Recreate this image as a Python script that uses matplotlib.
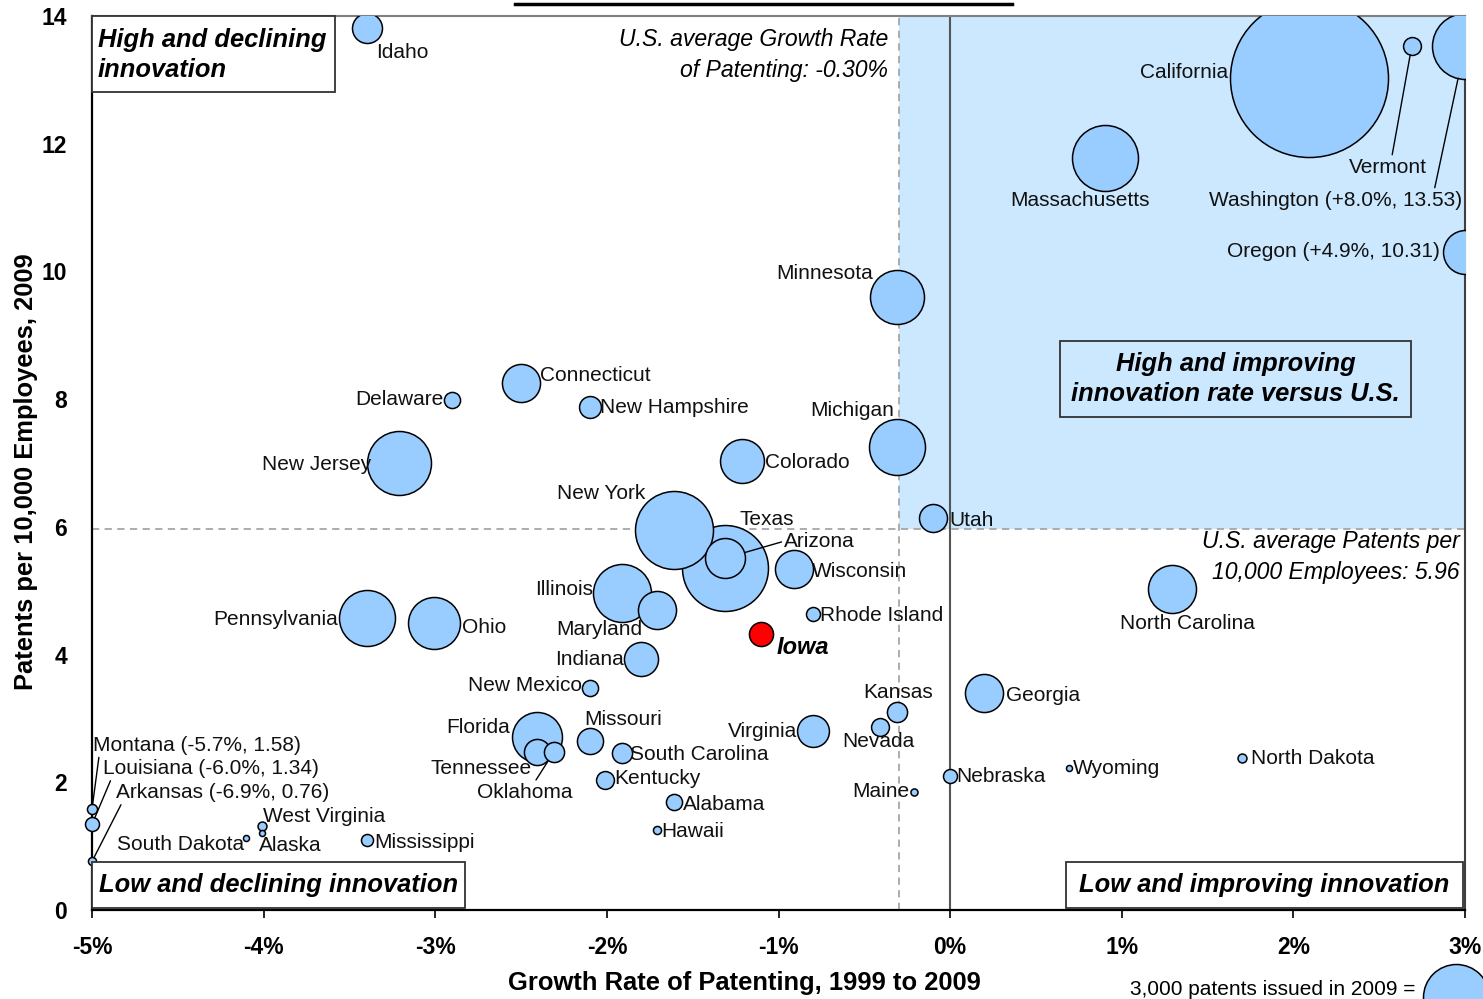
import numpy as np
import matplotlib.pyplot as plt
from matplotlib.patches import Rectangle
from matplotlib.lines import Line2D

plt.rcParams['font.family'] = ['Liberation Sans', 'DejaVu Sans']

# State data: growth rate of patenting 1999-2009 (%), patents per 10,000
# employees in 2009, and patents issued in 2009.
states = ['Idaho', 'California', 'Vermont', 'Washington', 'Oregon', 'Massachusetts',
          'Minnesota', 'Michigan', 'Utah', 'Connecticut', 'Delaware', 'New Hampshire',
          'New Jersey', 'Colorado', 'New York', 'Texas', 'Arizona', 'Wisconsin',
          'Illinois', 'Maryland', 'Pennsylvania', 'Ohio', 'Indiana', 'Iowa',
          'Rhode Island', 'New Mexico', 'Florida', 'Tennessee', 'Oklahoma', 'Missouri',
          'South Carolina', 'Kentucky', 'Alabama', 'Hawaii', 'Virginia', 'Kansas',
          'Nevada', 'Maine', 'Nebraska', 'Wyoming', 'North Dakota', 'Georgia',
          'North Carolina', 'Mississippi', 'South Dakota', 'West Virginia', 'Alaska',
          'Montana', 'Louisiana', 'Arkansas']
growth = np.array([-3.40, 2.09, 2.69, 8.0, 4.9, 0.90,
                   -0.31, -0.31, -0.10, -2.50, -2.90, -2.10,
                   -3.21, -1.21, -1.61, -1.31, -1.31, -0.91,
                   -1.91, -1.71, -3.40, -3.01, -1.80, -1.10,
                   -0.80, -2.10, -2.41, -2.41, -2.31, -2.10,
                   -1.91, -2.01, -1.61, -1.71, -0.80, -0.31,
                   -0.41, -0.21, 0.00, 0.69, 1.70, 0.20,
                   1.29, -3.40, -4.10, -4.01, -4.01,
                   -5.7, -6.0, -6.9])
per_10k = np.array([13.81, 13.03, 13.53, 13.53, 10.31, 11.78,
                    9.60, 7.25, 6.14, 8.25, 7.99, 7.88,
                    7.00, 7.03, 5.95, 5.36, 5.51, 5.34,
                    4.96, 4.70, 4.57, 4.49, 3.93, 4.32,
                    4.64, 3.48, 2.71, 2.47, 2.47, 2.65,
                    2.46, 2.04, 1.69, 1.25, 2.80, 3.10,
                    2.87, 1.85, 2.10, 2.22, 2.38, 3.40,
                    5.03, 1.10, 1.13, 1.32, 1.21,
                    1.58, 1.34, 0.76])
patents = np.array([620, 17200, 220, 3000, 1330, 3000,
                    2010, 2160, 540, 1000, 180, 330,
                    2820, 1330, 4190, 5090, 1100, 1000,
                    2320, 1000, 2160, 1860, 800, 400,
                    135, 180, 1720, 470, 280, 470,
                    280, 220, 180, 45, 700, 280,
                    220, 35, 135, 25, 55, 1000,
                    1590, 100, 25, 55, 25,
                    70, 135, 45])

us_growth = -0.30
us_per_10k = 5.96
legend_patents = 3000

x_ticks = [-5, -4, -3, -2, -1, 0, 1, 2, 3]
x_tick_labels = ['-5%', '-4%', '-3%', '-2%', '-1%', '0%', '1%', '2%', '3%']
y_ticks = [0, 2, 4, 6, 8, 10, 12, 14]

# label placement: offset in pixels from bubble centre, horizontal alignment
label_pos = {
    'Idaho': (10, -24, 'left'), 'California': (-81, 5, 'right'),
    'Vermont': (-24, -121, 'center'), 'Washington': (-3, -154, 'right'),
    'Oregon': (-25, 0, 'right'), 'Massachusetts': (-25, -43, 'center'),
    'Minnesota': (-24, 23, 'right'), 'Michigan': (-3, 37, 'right'),
    'Utah': (16, -3, 'left'), 'Connecticut': (19, 8, 'left'),
    'Delaware': (-9, 0, 'right'), 'New Hampshire': (10, -1, 'left'),
    'New Jersey': (-28, -1, 'right'), 'Colorado': (23, -1, 'left'),
    'New York': (-28, 37, 'right'), 'Texas': (41, 48, 'center'),
    'Arizona': (59, 17, 'left'), 'Wisconsin': (18, -2, 'left'),
    'Illinois': (-29, 4, 'right'), 'Maryland': (-14, -20, 'right'),
    'Pennsylvania': (-29, -1, 'right'), 'Ohio': (28, -4, 'left'),
    'Indiana': (-17, 0, 'right'), 'Iowa': (15, -13, 'left'),
    'Rhode Island': (7, -2, 'left'), 'New Mexico': (-8, 2, 'right'),
    'Florida': (-27, 9, 'right'), 'Tennessee': (-5, -16, 'right'),
    'Oklahoma': (-29, -40, 'center'), 'Missouri': (33, 21, 'center'),
    'South Carolina': (8, -2, 'left'), 'Kentucky': (9, 1, 'left'),
    'Alabama': (9, -2, 'left'), 'Hawaii': (5, -1, 'left'),
    'Virginia': (-16, 0, 'right'), 'Kansas': (1, 20, 'center'),
    'Nevada': (-1, -15, 'center'), 'Maine': (-5, 0, 'right'),
    'Nebraska': (6, -1, 'left'), 'Wyoming': (4, 0, 'left'),
    'North Dakota': (9, 0, 'left'), 'Georgia': (22, -3, 'left'),
    'North Carolina': (16, -35, 'center'), 'Mississippi': (8, -3, 'left'),
    'South Dakota': (-2, -7, 'right'), 'West Virginia': (1, 9, 'left'),
    'Alaska': (-3, -13, 'left'), 'Montana': (1, 64, 'left'),
    'Louisiana': (11, 56, 'left'), 'Arkansas': (24, 69, 'left'),
}
# states whose label is joined to the bubble by a leader line (start point on label)
leaders = {'Vermont': (0.55, 1), 'Washington': (0.89, 1), 'Arizona': (0, 0.5),
           'Oklahoma': (0.6, 1), 'Montana': (0.03, 0), 'Louisiana': (0.04, 0),
           'Arkansas': (0.03, 0)}

W, H = 1483, 999
XMIN, XMAX, YMIN, YMAX = -5, 3, 0, 14
FILL = '#99ccff'
SHADE = '#cce8ff'


def radius_px(p):
    # 3,000 patents -> bubble radius of 33 px
    return 33 * np.sqrt(p / legend_patents)


def bubble_size(p):
    return (2 * radius_px(p) * 72 / 100) ** 2


def fx(px):
    return px / W


def fy(py):
    return 1 - py / H


fig = plt.figure(figsize=(W / 100, H / 100), dpi=100)
ax = fig.add_axes([fx(92), fy(910), fx(1465) - fx(92), fy(16) - fy(910)])
ax.set_xlim(XMIN, XMAX)
ax.set_ylim(YMIN, YMAX)

# High-and-improving quadrant and U.S. average lines
ax.add_patch(Rectangle((us_growth, us_per_10k), XMAX - us_growth, YMAX - us_per_10k,
                       facecolor=SHADE, edgecolor='none', zorder=0))
ax.axvline(us_growth, color='#a6a6a6', lw=1.3, ls=(0, (4, 3)), zorder=1)
ax.axhline(us_per_10k, color='#a6a6a6', lw=1.3, ls=(0, (4, 3)), zorder=1)
ax.axvline(0, color='#555555', lw=1.5, zorder=1)

# bubbles: big ones first so small ones sit on top
xs = np.clip(growth, XMIN, XMAX)
order = np.argsort(-patents)
is_iowa = np.array([s == 'Iowa' for s in states])
off_left = growth < XMIN
for i in order:
    ax.scatter(xs[i], per_10k[i], s=bubble_size(patents[i]),
               color='red' if is_iowa[i] else FILL, edgecolor='black',
               linewidth=1.1, zorder=3, clip_on=not off_left[i])

for i, name in enumerate(states):
    dx, dy, ha = label_pos[name]
    text = name
    if growth[i] < XMIN or growth[i] > XMAX:
        text = '%s (%+.1f%%, %.2f)' % (name, growth[i], per_10k[i])
    props = dict(fontsize=15, color='#111111')
    if name == 'Iowa':
        props = dict(fontsize=17, fontweight='bold', fontstyle='italic', color='black')
    arrow = None
    if name in leaders:
        arrow = dict(arrowstyle='-', color='black', lw=1, shrinkA=0,
                     shrinkB=radius_px(patents[i]) * 0.72, relpos=leaders[name])
    ax.annotate(text, (xs[i], per_10k[i]), xytext=(dx, dy), textcoords='offset pixels',
                ha=ha, va='center', annotation_clip=False, arrowprops=arrow,
                zorder=4, **props)

# axes styling
for side in ['left', 'bottom']:
    ax.spines[side].set_color('black')
    ax.spines[side].set_linewidth(1.6)
ax.spines['top'].set_color('#808080')
ax.spines['top'].set_linewidth(1.5)
ax.spines['right'].set_color('#404040')
ax.spines['right'].set_linewidth(1.5)
ax.set_xticks(x_ticks)
ax.set_xticklabels(x_tick_labels)
ax.set_yticks(y_ticks)
ax.tick_params(axis='x', direction='out', length=6, width=1.2, pad=13,
               labelsize=16.5)
ax.tick_params(axis='y', length=0, pad=18, labelsize=16.5)
for lab in ax.get_xticklabels() + ax.get_yticklabels():
    lab.set_fontweight('bold')

ax.set_xlabel('Growth Rate of Patenting, 1999 to 2009', fontsize=18.4, fontweight='bold')
ax.set_ylabel('Patents per 10,000 Employees, 2009', fontsize=18.4, fontweight='bold')
ax.xaxis.set_label_coords((744 - 92) / 1373, (910 - 971) / 894)
ax.yaxis.set_label_coords((38 - 92) / 1373, 0.49)

QFONT = 18.4


# quadrant boxes (pixel extents in the figure)
def quadrant_box(x0, y0, x1, y1, text, face='white'):
    fig.add_artist(Rectangle((fx(x0), fy(y1)), fx(x1) - fx(x0), fy(y0) - fy(y1),
                             transform=fig.transFigure, facecolor=face,
                             edgecolor='#333333', lw=1.3, zorder=5))
    fig.text(fx((x0 + x1) / 2), fy((y0 + y1) / 2), text, ha='center', va='center',
             fontsize=QFONT, fontweight='bold', fontstyle='italic', linespacing=1.35,
             multialignment='center', zorder=6)


fig.add_artist(Rectangle((fx(92), fy(92)), fx(335) - fx(92), fy(16) - fy(92),
                         transform=fig.transFigure, facecolor='white',
                         edgecolor='#333333', lw=1.3, zorder=5))
fig.text(fx(98), fy(55), 'High and declining\ninnovation', ha='left', va='center',
         fontsize=QFONT, fontweight='bold', fontstyle='italic', linespacing=1.35, zorder=6)
quadrant_box(1060, 341, 1411, 417, 'High and improving\ninnovation rate versus U.S.',
             face=SHADE)
quadrant_box(92, 862, 465, 908, 'Low and declining innovation')
quadrant_box(1066, 862, 1463, 908, 'Low and improving innovation')

# U.S. average notes
fig.text(fx(888), fy(55), 'U.S. average Growth Rate\nof Patenting: -0.30%', ha='right',
         va='center', fontsize=16.6, fontstyle='italic', linespacing=1.4, zorder=6)
fig.text(fx(1460), fy(557), 'U.S. average Patents per\n10,000 Employees: 5.96', ha='right',
         va='center', fontsize=16.6, fontstyle='italic', linespacing=1.4, zorder=6)

# title underline (title itself is cut off at the top)
fig.add_artist(Line2D([fx(515), fx(1012)], [fy(4), fy(4)], color='black', lw=2.5))

# size legend at the bottom edge
fig.text(fx(1415), fy(980), '3,000 patents issued in 2009 =', ha='right', va='top',
         fontsize=15)
ax.scatter([fx(1456)], [fy(997)], s=bubble_size(legend_patents), color=FILL,
           edgecolor='black', linewidth=1.1, transform=fig.transFigure, clip_on=False,
           zorder=6)

fig.savefig('out.png', dpi=100)
